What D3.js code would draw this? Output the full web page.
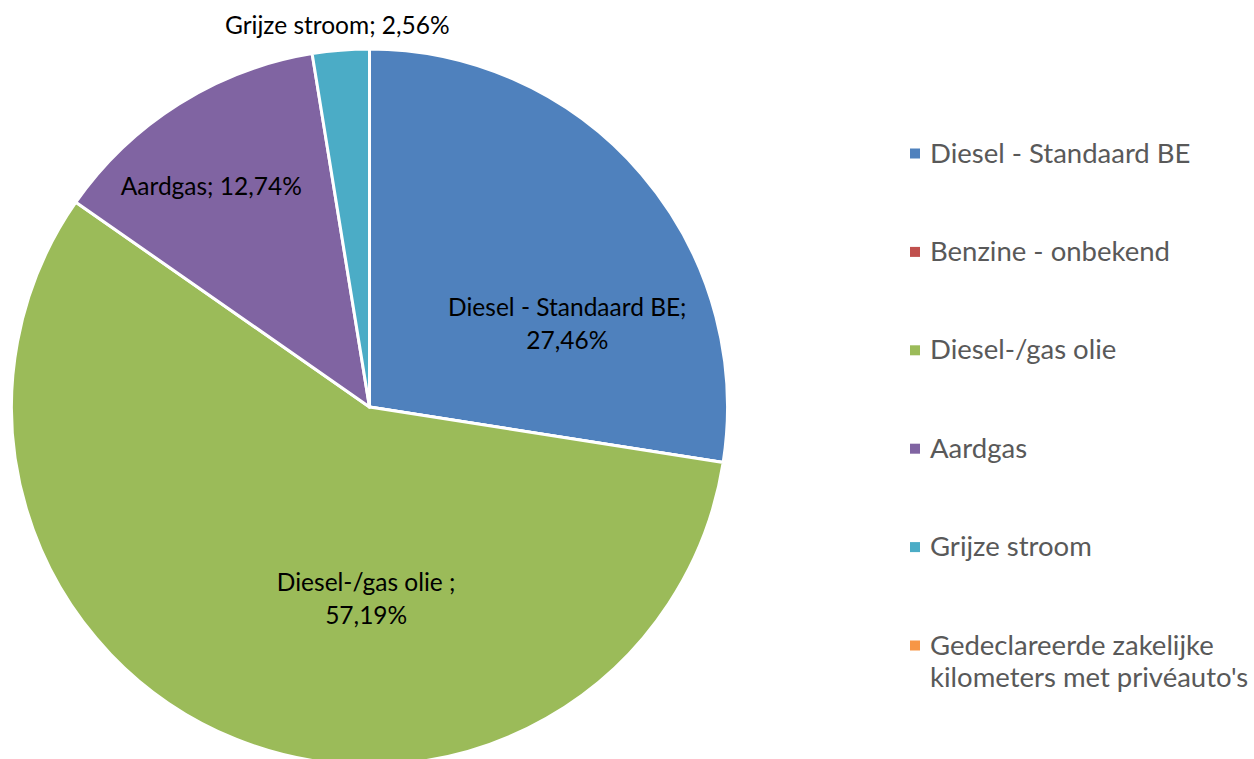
<!DOCTYPE html>
<html>
<head>
<meta charset="utf-8">
<script src="https://cdn.jsdelivr.net/npm/d3@7"></script>
<style>
  body { margin: 0; background: #fff; }
  svg { display: block; }
</style>
</head>
<body>
<div id="chart"></div>
<script>
// chart data
var categories = ["Diesel - Standaard BE", "Benzine - onbekend", "Diesel-/gas olie", "Aardgas", "Grijze stroom", "Gedeclareerde zakelijke kilometers met privéauto's"];
var values = [27.46, 0, 57.19, 12.74, 2.56, 0];
var colors = ["#4F81BD", "#C0504D", "#9BBB59", "#8064A2", "#4BACC6", "#F79646"];
var labelLines = [["Diesel - Standaard BE;", "27,46%"], null, ["Diesel-/gas olie ;", "57,19%"], ["Aardgas; 12,74%"], ["Grijze stroom; 2,56%"], null];
var legendLines = [["Diesel - Standaard BE"], ["Benzine - onbekend"], ["Diesel-/gas olie"], ["Aardgas"], ["Grijze stroom"], ["Gedeclareerde zakelijke", "kilometers met privéauto's"]];

var width = 1254, height = 759;
var cx = 369.5, cy = 407, radius = 358;

var svg = d3.select("#chart").append("svg")
  .attr("width", width)
  .attr("height", height);

var pie = d3.pie().sort(null).value(function(d) { return d; });
var arcs = pie(values);

var arc = d3.arc().innerRadius(0).outerRadius(radius);

var g = svg.append("g").attr("transform", "translate(" + cx + "," + cy + ")");

g.selectAll("path")
  .data(arcs)
  .enter()
  .append("path")
  .attr("d", arc)
  .attr("fill", function(d, i) { return colors[i]; })
  .attr("stroke", "#fff")
  .attr("stroke-width", 3)
  .attr("stroke-linejoin", "round");

// label placement (best-fit like): radius factor and angle tweak per slice
var labelLayout = [
  { rf: 0.60, da: 17.6 },
  null,
  { rf: 0.535, da: -20.9 },
  { rf: 0.76, da: -3.4 },
  { rf: 1.072, da: -0.2 },
  null
];

var labels = g.selectAll("text.lbl")
  .data(arcs)
  .enter()
  .filter(function(d, i) { return labelLines[i]; })
  .append("text")
  .attr("class", "lbl")
  .attr("text-anchor", "middle")
  .attr("font-family", "Lato, 'Noto Sans', sans-serif")
  .attr("font-size", 24.5)
  .attr("fill", "#000")
  .attr("transform", function(d) {
    var i = d.index;
    var lay = labelLayout[i];
    var a = (d.startAngle + d.endAngle) / 2 + lay.da * Math.PI / 180;
    var r = radius * lay.rf;
    return "translate(" + (r * Math.sin(a)) + "," + (-r * Math.cos(a)) + ")";
  });

labels.each(function(d) {
  var lines = labelLines[d.index];
  var t = d3.select(this);
  var lh = 33;
  var start = -(lines.length - 1) * lh / 2 + 9;
  lines.forEach(function(l, k) {
    t.append("tspan").attr("x", 0).attr("y", start + k * lh).text(l);
  });
});

// legend
var legendY = d3.scalePoint()
  .domain(d3.range(categories.length))
  .range([153.5, 645.5]);

var legend = svg.append("g").attr("transform", "translate(910,0)");

var items = legend.selectAll("g.item")
  .data(categories)
  .enter()
  .append("g")
  .attr("class", "item")
  .attr("transform", function(d, i) { return "translate(0," + legendY(i) + ")"; });

items.append("rect")
  .attr("x", 0)
  .attr("y", -5)
  .attr("width", 10)
  .attr("height", 10)
  .attr("fill", function(d, i) { return colors[i]; });

items.append("text")
  .attr("font-family", "Lato, sans-serif")
  .attr("font-size", 27.5)
  .attr("fill", "#595959")
  .each(function(d, i) {
    var t = d3.select(this);
    legendLines[i].forEach(function(l, k) {
      t.append("tspan").attr("x", 20).attr("y", 9 + k * 32.5).text(l);
    });
  });
</script>
</body>
</html>
